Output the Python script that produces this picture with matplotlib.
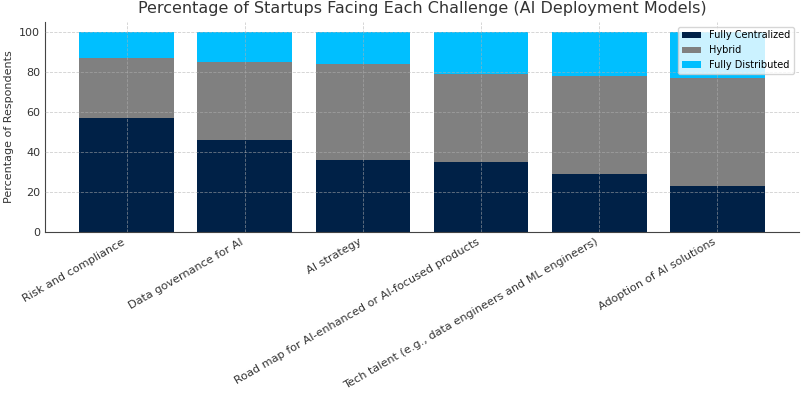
import matplotlib
matplotlib.use('Agg')
import matplotlib.pyplot as plt
import numpy as np

challenges = ['Risk and compliance', 'Data governance for AI', 'AI strategy',
              'Road map for AI-enhanced or AI-focused products',
              'Tech talent (e.g., data engineers and ML engineers)',
              'Adoption of AI solutions']
centralized = [57, 46, 36, 35, 29, 23]
hybrid = [30, 39, 48, 44, 49, 54]
distributed = [13, 15, 16, 21, 22, 23]

fig, ax = plt.subplots(figsize=(8.03, 3.95), dpi=100)
x = np.arange(len(challenges))
c = np.array(centralized)
h = np.array(hybrid)
ax.bar(x, c, width=0.8, color='#002147', label='Fully Centralized')
ax.bar(x, h, width=0.8, bottom=c, color='#808080', label='Hybrid')
ax.bar(x, distributed, width=0.8, bottom=c + h, color='#00BFFF', label='Fully Distributed')

ax.set_title('Percentage of Startups Facing Each Challenge (AI Deployment Models)', fontsize=11.5, color='#333333')
ax.set_ylabel('Percentage of Respondents', fontsize=8, color='#333333')
ax.set_xticks(x)
ax.set_xticklabels(challenges, rotation=30, ha='right', fontsize=8.1, color='#333333')
ax.tick_params(axis='y', labelsize=8, colors='#333333')
ax.tick_params(axis='both', length=0)
ax.grid(True, linestyle='--', linewidth=0.6, color='#b0b0b0', alpha=0.6)
ax.set_axisbelow(False)
for s in ['top', 'right']:
    ax.spines[s].set_visible(False)
for s in ['left', 'bottom']:
    ax.spines[s].set_color('#444444')
ax.legend(loc='upper right', fontsize=7, framealpha=0.8)

plt.subplots_adjust(left=0.056, right=0.995, top=0.945, bottom=0.413)
plt.savefig('out.png', dpi=100)
